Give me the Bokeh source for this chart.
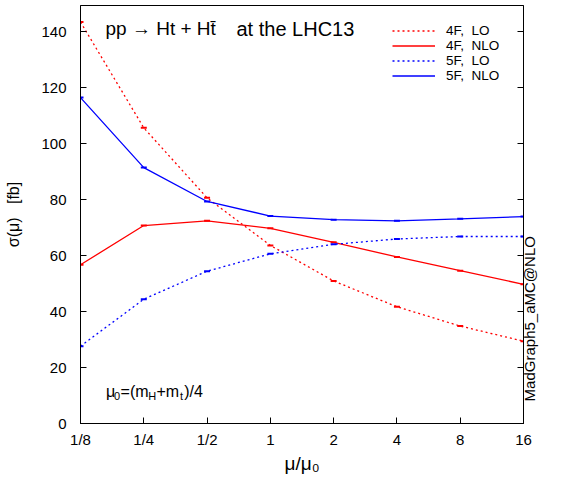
import math
from bokeh.plotting import figure
from bokeh.models import FixedTicker, LinearAxis, Label, Legend, LegendItem, Range1d
from bokeh.embed import file_html
from bokeh.resources import INLINE

mu = [0.125, 0.25, 0.5, 1, 2, 4, 8, 16]
mu_labels = ["1/8", "1/4", "1/2", "1", "2", "4", "8", "16"]
lo_4f = [143.4, 105.6, 80.6, 63.6, 50.9, 41.7, 34.8, 29.4]
nlo_4f = [56.7, 70.7, 72.4, 69.7, 64.7, 59.5, 54.6, 49.7]
lo_5f = [27.6, 44.4, 54.4, 60.6, 64.0, 65.9, 66.8, 66.8]
nlo_5f = [116.4, 91.4, 79.3, 74.1, 72.8, 72.4, 73.1, 73.9]
y_ticks = [0, 20, 40, 60, 80, 100, 120, 140]
y_max = 149.3
series_labels = ["4F,\u00a0 LO", "4F,\u00a0 NLO", "5F,\u00a0 LO", "5F,\u00a0 NLO"]
side_text = "MadGraph5_aMC@NLO"
side_text_y = 7.9

FONT = "Liberation Sans"
RED = "#ff0000"
BLUE = "#0000ff"

p = figure(width=549, height=476, x_axis_type="log",
           x_range=Range1d(mu[0], mu[-1]), y_range=Range1d(y_ticks[0], y_max),
           output_backend="svg", toolbar_location=None,
           min_border_left=80, min_border_right=19, min_border_top=5,
           min_border_bottom=48)
p.xgrid.visible = False
p.ygrid.visible = False
p.outline_line_color = "#000000"
p.outline_line_alpha = 1.0
p.outline_line_width = 1

xa = p.xaxis[0]
xa.ticker = FixedTicker(ticks=mu, minor_ticks=[])
xa.major_label_overrides = {m: l for m, l in zip(mu, mu_labels)}
xa.axis_label = "\u03bc/\u03bc\u2080"
ya = p.yaxis[0]
ya.ticker = FixedTicker(ticks=y_ticks, minor_ticks=[])
ya.axis_label = "\u03c3(\u03bc)\u00a0\u00a0 [fb]"

# right-hand axis carrying only the inward ticks
rt = LinearAxis(ticker=FixedTicker(ticks=y_ticks, minor_ticks=[]),
                major_label_overrides={t: "" for t in y_ticks},
                major_label_standoff=0)
p.add_layout(rt, "right")
# outer right axis carrying the vertical program name
ra = LinearAxis(ticker=FixedTicker(ticks=[side_text_y], minor_ticks=[]),
                major_label_overrides={side_text_y: side_text},
                major_label_orientation=math.pi / 2)
p.add_layout(ra, "right")

for ax in (xa, ya, rt, ra):
    ax.major_tick_in = 6
    ax.major_tick_out = 0
    ax.minor_tick_in = 0
    ax.minor_tick_out = 0
    ax.axis_line_color = "#000000"
    ax.major_tick_line_color = "#000000"
    ax.major_label_text_font = FONT
    ax.major_label_text_font_size = "15px"
    ax.major_label_text_color = "black"
    ax.axis_label_text_font = FONT
    ax.axis_label_text_font_style = "normal"
    ax.axis_label_text_color = "black"
ra.major_tick_in = 0
ra.axis_line_color = None
xa.major_label_standoff = 7
ya.major_label_standoff = 14
xa.axis_label_standoff = 2
ya.axis_label_standoff = 16
xa.axis_label_text_font_size = "19px"
ya.axis_label_text_font_size = "16px"
ra.major_label_standoff = 6

specs = [(lo_4f, RED, "2 3"), (nlo_4f, RED, "solid"),
         (lo_5f, BLUE, "2 3"), (nlo_5f, BLUE, "solid")]
renderers = []
for ys, col, dash in specs:
    r = p.line(mu, ys, line_color=col, line_width=1.3, line_dash=dash)
    p.scatter(mu, ys, marker="dash", size=6, line_color=col, line_width=2)
    renderers.append(r)

legend = Legend(items=[LegendItem(label=l, renderers=[r]) for l, r in zip(series_labels, renderers)],
                location=(312, 340), glyph_width=43, glyph_height=15,
                label_height=15, spacing=0, padding=0, margin=0,
                label_standoff=11, background_fill_alpha=0,
                border_line_color=None, label_text_font=FONT,
                label_text_font_size="13.5px", label_text_color="black")
p.add_layout(legend)

def lab(text, x, y, size):
    p.add_layout(Label(text=text, x=x, y=y, x_units="screen", y_units="screen",
                       text_font=FONT, text_font_size=size, text_color="black",
                       text_baseline="middle", text_align="left"))

# title inside the frame
lab("pp \u2192 Ht + H\u0074\u0304", 25, 395, "19px")
lab("at the LHC13", 156, 395, "20px")

# mu0 annotation
lab("\u03bc", 25.4, 32, "16px")
lab("0", 33.5, 28, "11px")
lab("=(m", 40.1, 32, "16px")
lab("H", 67.8, 28, "11px")
lab("+m", 76, 32, "16px")
lab("t", 99.5, 28, "11px")
lab(")/4", 103.7, 32, "16px")

open("out.html", "w").write(file_html(p, INLINE))
